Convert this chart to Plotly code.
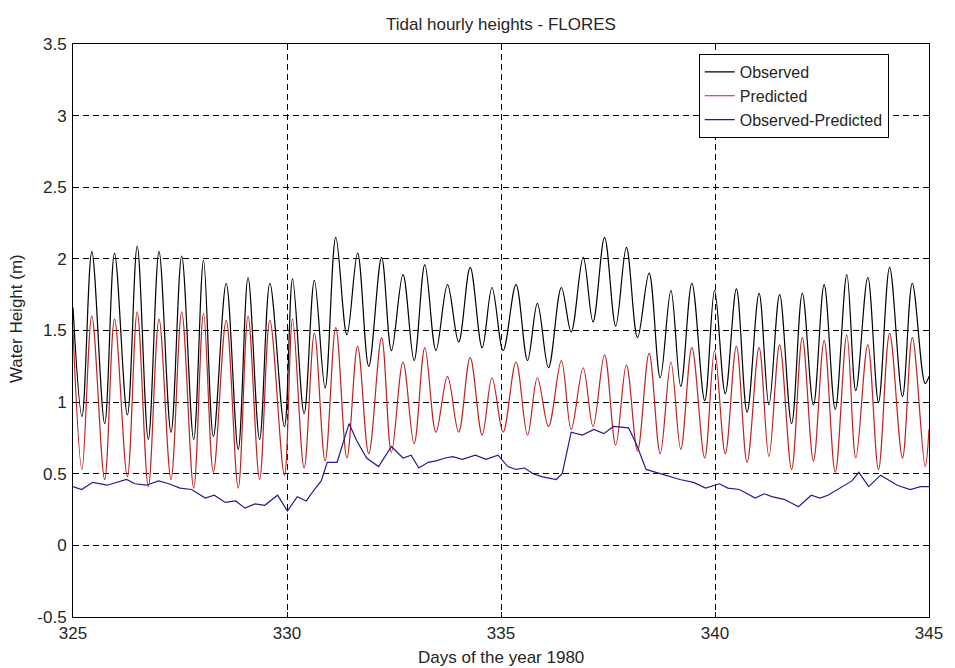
import plotly.graph_objects as go

# Times (day of year 1980) of the tidal extrema:
# start, then alternating low/high ... , end
ext_days = [325.00,
            325.21, 325.44, 325.74, 325.97, 326.27, 326.50, 326.76, 327.01, 327.29, 327.54,
            327.82, 328.05, 328.28, 328.58, 328.86, 329.09, 329.36, 329.60, 329.94, 330.13,
            330.40, 330.64, 330.89, 331.14, 331.40, 331.65, 331.91, 332.21, 332.44, 332.71,
            332.97, 333.22, 333.48, 333.75, 334.01, 334.28, 334.56, 334.79, 335.05, 335.35,
            335.62, 335.85, 336.11, 336.41, 336.64, 336.92, 337.15, 337.42, 337.68, 337.93,
            338.19, 338.46, 338.72, 338.97, 339.20, 339.46, 339.76, 339.99, 340.24, 340.50,
            340.75, 341.03, 341.26, 341.51, 341.79, 342.04, 342.30, 342.55, 342.81, 343.08,
            343.29, 343.57, 343.82, 344.08, 344.38, 344.61, 344.91,
            345.00]

observed = [1.66,
            0.90, 2.05, 0.85, 2.04, 0.91, 2.09, 0.74, 2.05, 0.79, 2.02,
            0.74, 1.99, 0.76, 1.83, 0.67, 1.87, 0.74, 1.83, 0.83, 1.86,
            0.92, 1.85, 1.10, 2.15, 1.47, 2.04, 1.25, 2.01, 1.36, 1.89,
            1.29, 1.96, 1.36, 1.82, 1.42, 1.94, 1.38, 1.80, 1.36, 1.82,
            1.29, 1.69, 1.24, 1.80, 1.49, 2.01, 1.56, 2.15, 1.53, 2.08,
            1.45, 1.90, 1.17, 1.78, 1.11, 1.83, 1.01, 1.78, 1.06, 1.79,
            0.93, 1.76, 0.98, 1.75, 0.85, 1.76, 0.98, 1.82, 0.95, 1.89,
            1.08, 1.87, 1.00, 1.94, 1.04, 1.83, 1.13,
            1.18]

predicted = [1.50,
             0.53, 1.60, 0.46, 1.58, 0.48, 1.63, 0.41, 1.58, 0.46, 1.63,
             0.40, 1.62, 0.51, 1.57, 0.40, 1.60, 0.46, 1.57, 0.49, 1.58,
             0.54, 1.48, 0.59, 1.52, 0.61, 1.39, 0.64, 1.45, 0.65, 1.28,
             0.71, 1.38, 0.79, 1.18, 0.79, 1.31, 0.77, 1.17, 0.79, 1.28,
             0.77, 1.17, 0.83, 1.29, 0.81, 1.24, 0.83, 1.33, 0.70, 1.26,
             0.66, 1.34, 0.64, 1.28, 0.67, 1.38, 0.61, 1.36, 0.64, 1.39,
             0.58, 1.38, 0.62, 1.40, 0.53, 1.45, 0.59, 1.43, 0.51, 1.47,
             0.61, 1.40, 0.53, 1.48, 0.61, 1.45, 0.55,
             0.81]

resid_days = [325.00, 325.20, 325.46, 325.80, 326.25, 326.45, 326.71, 327.00, 327.24, 327.50,
              327.77, 328.09, 328.30, 328.56, 328.80, 329.02, 329.25, 329.48,
              329.78, 330.01, 330.24, 330.45, 330.64, 330.80, 330.94, 331.17, 331.45, 331.63,
              331.86, 332.14, 332.44, 332.71, 332.90, 333.08, 333.30, 333.48, 333.70, 333.87,
              334.10, 334.40, 334.65, 334.93, 335.16, 335.35, 335.55, 335.75, 335.95,
              336.29, 336.43, 336.64, 336.90, 337.17, 337.40, 337.63, 337.98, 338.16, 338.39,
              338.72, 339.00, 339.18, 339.50, 339.78, 340.10, 340.30, 340.57, 340.94, 341.15,
              341.33, 341.63, 341.95, 342.25, 342.45, 342.64, 343.01, 343.20,
              343.36, 343.59, 343.87, 344.05, 344.26, 344.56, 344.80, 345.00]
residual = [0.41, 0.39, 0.44, 0.42, 0.46, 0.43, 0.42, 0.45, 0.43, 0.40,
            0.39, 0.33, 0.35, 0.30, 0.31, 0.26, 0.29, 0.28,
            0.35, 0.24, 0.34, 0.31, 0.39, 0.45, 0.58, 0.58, 0.85, 0.73,
            0.61, 0.55, 0.69, 0.61, 0.63, 0.54, 0.58, 0.59, 0.61, 0.62,
            0.60, 0.63, 0.60, 0.63, 0.55, 0.53, 0.54, 0.50, 0.48,
            0.46, 0.50, 0.79, 0.77, 0.81, 0.78, 0.83, 0.82, 0.71, 0.53,
            0.50, 0.48, 0.46, 0.44, 0.40, 0.43, 0.40, 0.39, 0.33, 0.36,
            0.34, 0.32, 0.27, 0.35, 0.33, 0.35, 0.42, 0.45,
            0.51, 0.41, 0.49, 0.46, 0.42, 0.39, 0.41, 0.41]

x_ticks = [325, 330, 335, 340, 345]
y_ticks = [-0.5, 0, 0.5, 1, 1.5, 2, 2.5, 3, 3.5]
y_tick_text = ["-0.5", "0", "0.5", "1", "1.5", "2", "2.5", "3", "3.5"]

FONT = "Arial, Liberation Sans, sans-serif"
TXT = "#262626"

fig = go.Figure()
fig.add_trace(go.Scatter(x=ext_days, y=observed, name="Observed", mode="lines",
                         line=dict(color="black", width=1.2, shape="spline", smoothing=1.0)))
fig.add_trace(go.Scatter(x=ext_days, y=predicted, name="Predicted", mode="lines",
                         line=dict(color="#c42020", width=1.2, shape="spline", smoothing=1.0)))
fig.add_trace(go.Scatter(x=resid_days, y=residual, name="Observed-Predicted", mode="lines",
                         line=dict(color="#1f1f8f", width=1.2)))

axis_common = dict(showline=True, linecolor="black", linewidth=1, mirror="ticks",
                   ticks="inside", ticklen=5, tickcolor="black",
                   showgrid=True, gridcolor="black", gridwidth=1, griddash="6px,4px",
                   zeroline=False, tickfont=dict(family=FONT, size=17, color=TXT))

fig.update_layout(
    width=955, height=668,
    margin=dict(l=73, r=16, t=44, b=51),
    paper_bgcolor="white", plot_bgcolor="white",
    font=dict(family=FONT, size=17, color=TXT),
    title=dict(text="Tidal hourly heights - FLORES", x=0.5, xref="paper", xanchor="center",
               y=1 - 24 / 668, yref="container", yanchor="middle",
               font=dict(family=FONT, size=17, color=TXT)),
    xaxis=dict(range=[325, 345], tickvals=x_ticks, ticklabelstandoff=1, **axis_common),
    yaxis=dict(range=[-0.5, 3.5], tickvals=y_ticks, ticktext=y_tick_text,
               ticklabelstandoff=2, **axis_common),
    legend=dict(x=0.731, xanchor="left", y=0.9825, yanchor="top",
                bordercolor="black", borderwidth=1, bgcolor="white",
                entrywidth=170, entrywidthmode="pixels",
                font=dict(family=FONT, size=16, color=TXT)),
    showlegend=True,
    annotations=[
        dict(text="Water Height (m)", xref="paper", yref="paper", x=0, y=0.52,
             xshift=-57, textangle=-90, showarrow=False, xanchor="center", yanchor="middle",
             font=dict(family=FONT, size=17, color=TXT)),
        dict(text="Days of the year 1980", xref="paper", yref="paper", x=0.5, y=0,
             yshift=-40, showarrow=False, xanchor="center", yanchor="middle",
             font=dict(family=FONT, size=17, color=TXT)),
    ],
)

fig.write_html("out.html")
